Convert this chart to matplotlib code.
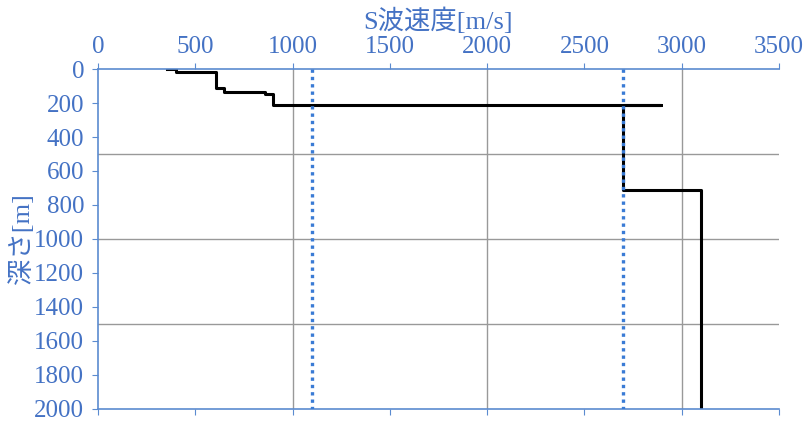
import matplotlib.pyplot as plt
from matplotlib.ticker import MultipleLocator

plt.rcParams['font.family'] = ['Liberation Serif', 'Noto Sans CJK JP']

# velocity profile (S-wave velocity [m/s] vs depth [m])
vs = [355, 400, 400, 605, 605, 650, 650, 860, 860, 900, 900, 2895, 2700, 2700, 3100, 3100]
depth = [0, 0, 20, 20, 113, 113, 133, 133, 145, 145, 212, 212, 212, 714, 714, 2000]

# reference velocities (dotted lines)
ref_vs = [1100, 2700]
ref_depth = [0, 2000]

blue_text = '#4472C4'
blue_axis = '#5B8BD0'

fig = plt.figure(figsize=(8.1, 4.26), dpi=100)
ax = fig.add_axes([0.121, 0.040, 0.8407, 0.798])

for v in ref_vs:
    ax.plot([v, v], ref_depth, color='#3A7BD5', linewidth=2.4,
            linestyle=(0, (1, 1.2)), zorder=3)
ax.plot(vs, depth, color='black', linewidth=2.2, zorder=2)

ax.set_xlim(0, 3500)
ax.set_ylim(2000, 0)
ax.xaxis.tick_top()
ax.xaxis.set_label_position('top')
ax.xaxis.set_major_locator(MultipleLocator(500))
ax.yaxis.set_major_locator(MultipleLocator(200))

# gridlines every 1000 in x and 500 in y
for gx in [1000, 2000, 3000]:
    ax.axvline(gx, color='#999999', linewidth=1.0, zorder=1)
for gy in [500, 1000, 1500]:
    ax.axhline(gy, color='#999999', linewidth=1.0, zorder=1)

ax.spines['right'].set_visible(False)
for s in ['top', 'left', 'bottom']:
    ax.spines[s].set_color(blue_axis)
    ax.spines[s].set_linewidth(1.2)

ax.tick_params(axis='x', which='major', top=True, bottom=True, direction='in',
               length=4, color=blue_axis, labelcolor=blue_text, labelsize=18, pad=4)
ax.tick_params(axis='x', which='major', bottom=True, direction='out')
ax.tick_params(axis='y', direction='out', length=4, color=blue_axis,
               labelcolor=blue_text, labelsize=18, pad=6)

ax.set_xlabel('S波速度[m/s]', color=blue_text, fontsize=19, labelpad=5)
ax.set_ylabel('深さ[m]', color=blue_text, fontsize=19, labelpad=0)

fig.savefig('out.png', dpi=100)
